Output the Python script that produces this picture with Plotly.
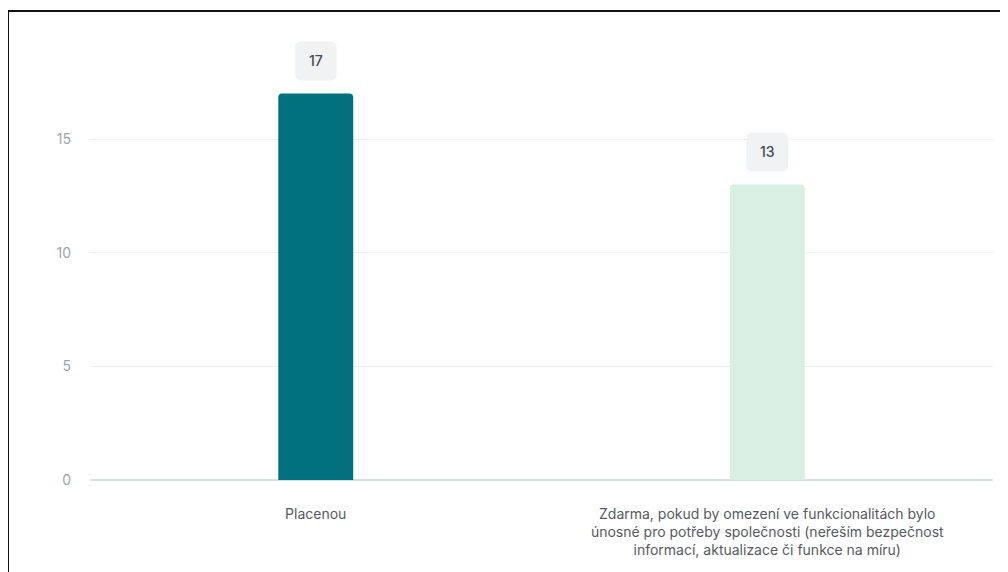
import plotly.graph_objects as go

categories = ["Placenou", "Zdarma"]
tick_labels = [
    "Placenou",
    "Zdarma, pokud by omezení ve funkcionalitách bylo<br>únosné pro potřeby společnosti (neřeším bezpečnost<br>informací, aktualizace či funkce na míru)",
]
values = [17, 13]
bar_colors = ["#01707F", "#D9EFE3"]
y_ticks = [0, 5, 10, 15]

FONT = "Inter, Roboto, 'Open Sans', sans-serif"

fig = go.Figure()
fig.add_trace(go.Bar(
    x=categories, y=values,
    marker=dict(color=bar_colors, line=dict(width=0)),
    width=0.166,
    hoverinfo="skip",
))

def rounded_rect(w, h, r, dy):
    x0, x1 = -w / 2, w / 2
    y0, y1 = dy, dy + h
    return (f"M {x0+r},{y0} L {x1-r},{y0} Q {x1},{y0} {x1},{y0+r} "
            f"L {x1},{y1-r} Q {x1},{y1} {x1-r},{y1} L {x0+r},{y1} "
            f"Q {x0},{y1} {x0},{y1-r} L {x0},{y0+r} Q {x0},{y0} {x0+r},{y0} Z")

for c, v in zip(categories, values):
    fig.add_shape(
        type="path", xref="x", yref="y",
        xsizemode="pixel", ysizemode="pixel",
        xanchor=c, yanchor=v,
        path=rounded_rect(42, 39, 7, 13),
        fillcolor="#F0F2F3", line=dict(width=0), layer="above",
    )
    fig.add_annotation(
        x=c, y=v, text=str(v), showarrow=False,
        yshift=33, font=dict(family=FONT, size=14, color="#444A56", weight=500),
    )

# outer frame (top and left edges of a cropped box)
fig.add_shape(type="line", xref="paper", yref="paper",
              x0=-0.0908, x1=1.03, y0=1.0064, y1=1.0064,
              line=dict(color="#111111", width=2))
fig.add_shape(type="line", xref="paper", yref="paper",
              x0=-0.0908, x1=-0.0908, y0=1.0064, y1=-0.25,
              line=dict(color="#111111", width=2))

fig.update_layout(
    width=1000, height=564,
    margin=dict(l=82, r=15, t=6, b=92),
    paper_bgcolor="white", plot_bgcolor="white",
    showlegend=False,
    barcornerradius=4,
    font=dict(family=FONT),
    xaxis=dict(
        tickmode="array", tickvals=categories, ticktext=tick_labels,
        tickfont=dict(family=FONT, size=14, color="#555A62"),
        showgrid=False, showline=False, zeroline=False, ticks="",
        ticklabelstandoff=24,
    ),
    yaxis=dict(
        range=[0, 20.5], tickmode="array", tickvals=y_ticks,
        tickfont=dict(family=FONT, size=14, color="#9EA3AB"),
        showgrid=True, gridcolor="#ECEEF1", gridwidth=1,
        zeroline=True, zerolinecolor="#D9DDE5", zerolinewidth=2,
        showline=False, ticks="", ticklabelstandoff=18,
    ),
)

fig.write_html("out.html")
